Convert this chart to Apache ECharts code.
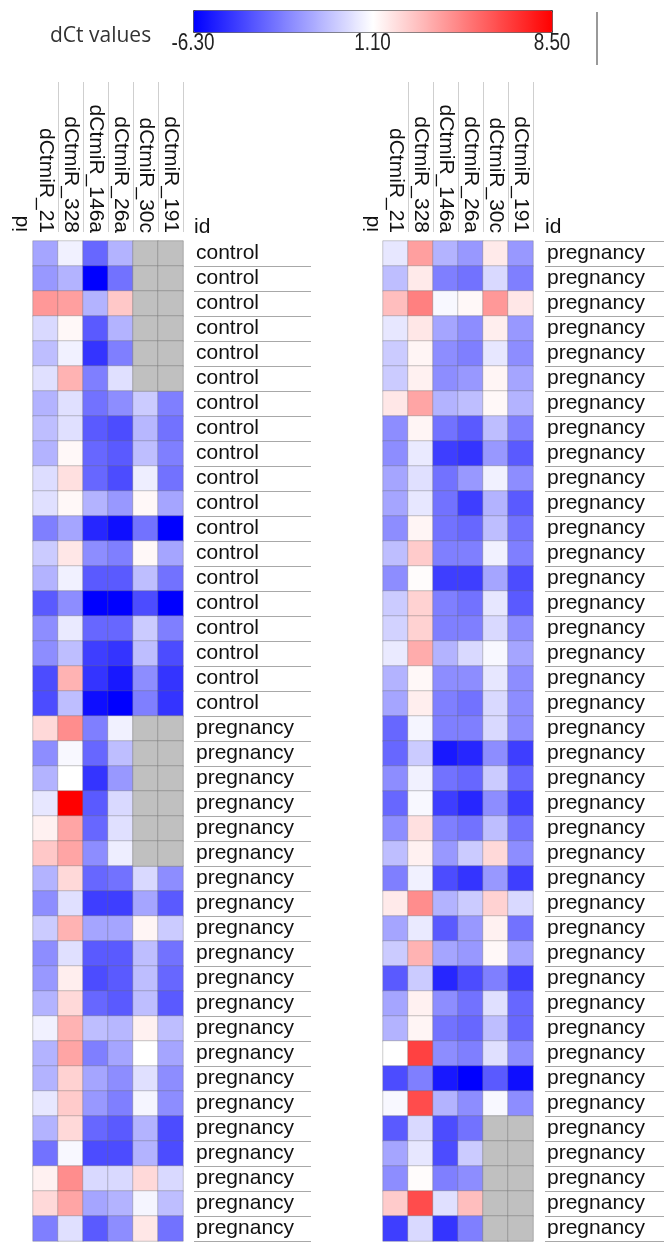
<!DOCTYPE html>
<html><head><meta charset="utf-8">
<script src="https://cdn.jsdelivr.net/npm/echarts@6/dist/echarts.min.js"></script>
<style>html,body{margin:0;padding:0;background:#fff}#c{width:664px;height:1242px}</style>
</head><body><div id="c"></div>
<script>
// ---- data ----
const miRNAs = ['dCtmiR_21','dCtmiR_328','dCtmiR_146a','dCtmiR_26a','dCtmiR_30c','dCtmiR_191'];
const leftIds = ['control','control','control','control','control','control','control','control','control','control',
  'control','control','control','control','control','control','control','control','control',
  'pregnancy','pregnancy','pregnancy','pregnancy','pregnancy','pregnancy','pregnancy','pregnancy','pregnancy','pregnancy',
  'pregnancy','pregnancy','pregnancy','pregnancy','pregnancy','pregnancy','pregnancy','pregnancy','pregnancy','pregnancy','pregnancy'];
const rightIds = ['pregnancy','pregnancy','pregnancy','pregnancy','pregnancy','pregnancy','pregnancy','pregnancy','pregnancy','pregnancy',
  'pregnancy','pregnancy','pregnancy','pregnancy','pregnancy','pregnancy','pregnancy','pregnancy','pregnancy','pregnancy',
  'pregnancy','pregnancy','pregnancy','pregnancy','pregnancy','pregnancy','pregnancy','pregnancy','pregnancy','pregnancy',
  'pregnancy','pregnancy','pregnancy','pregnancy','pregnancy','pregnancy','pregnancy','pregnancy','pregnancy','pregnancy'];

// left panel, one array per miRNA (top row first); null = missing
const L_miR21  = [-1.5,-1.9,4.1,0.0,-0.8,0.2,-1.1,-0.8,-1.1,0.1, 0.2,-2.6,-0.4,-1.1,-3.7,-2.2,-2.2,-4.1,-4.1,2.2, -2.2,-1.1,0.4,1.5,2.7,-1.1,-2.2,-0.4,-2.2,-1.9, -1.1,0.7,-1.1,-1.1,0.4,-1.1,-3.0,1.5,2.2,-2.6];
const L_miR328 = [0.7,-1.1,3.9,1.3,0.7,3.3,0.2,0.2,1.3,2.0, 1.3,-1.5,1.8,0.7,-2.2,0.5,-0.8,3.3,-0.8,4.4, 0.9,1.1,8.5,3.7,3.7,2.2,0.2,3.3,0.2,1.6, 2.2,3.3,3.7,2.4,2.6,2.2,0.9,4.4,3.7,0.2];
const L_miR146a= [-3.3,-6.3,-1.1,-3.7,-4.8,-2.6,-3.0,-3.7,-3.3,-3.3, -1.1,-5.2,-2.2,-3.7,-6.3,-3.3,-4.5,-4.8,-5.9,-2.6, -3.3,-4.8,-3.7,-3.3,-2.2,-3.3,-4.5,-1.5,-3.7,-4.1, -3.3,-0.8,-2.6,-1.5,-1.9,-3.3,-4.1,0.0,-1.5,-3.7];
const L_miR26a = [-1.1,-3.0,2.7,-1.1,-2.6,0.2,-2.2,-4.1,-3.7,-4.1, -1.9,-5.9,-2.6,-3.7,-6.3,-3.3,-4.8,-5.6,-6.3,0.7, -0.8,-1.9,0.0,0.2,0.6,-3.0,-4.5,-1.5,-3.7,-3.7, -3.7,-1.0,-1.5,-2.2,-2.6,-3.7,-4.1,0.0,-1.1,-2.2];
const L_miR30c = [null,null,null,null,null,null,-0.4,-1.0,-0.8,0.6, 1.3,-3.0,1.3,-0.8,-4.1,-0.4,-0.8,-2.2,-2.6,null, null,null,null,null,null,0.0,-1.5,1.4,-0.8,-0.8, -0.8,1.5,1.1,0.2,0.8,-1.1,-1.1,2.2,0.8,1.8];
const L_miR191 = [null,null,null,null,null,null,-2.6,-3.0,-2.6,-3.0, -1.5,-6.3,-1.5,-3.0,-6.3,-2.6,-4.1,-4.8,-4.8,null, null,null,null,null,null,-2.2,-3.7,-0.4,-3.0,-3.3, -3.7,-0.8,-1.5,-2.2,-2.2,-4.1,-4.1,0.0,-0.8,-3.0];

// right panel
const R_miR21  = [0.4,-0.8,3.0,0.4,-0.4,-0.4,1.8,-2.2,-2.2,-1.5, -1.5,-2.2,-0.8,-2.2,-0.4,-0.2,0.5,-1.1,-1.5,-3.3, -3.3,-2.2,-3.3,-2.2,-0.8,-2.6,1.7,-1.5,-0.4,-3.7, -1.5,-1.1,1.1,-4.1,0.9,-3.7,-1.5,-2.2,2.6,-4.5];
const R_miR328 = [3.9,1.7,4.8,1.8,1.4,1.5,3.7,1.4,0.5,0.2, 0.4,1.4,2.6,1.2,2.4,2.4,3.5,1.3,1.6,0.8, -0.4,0.7,0.9,2.0,1.5,0.7,4.4,0.5,3.3,-0.4, 1.5,1.4,6.6,-2.6,6.3,0.0,0.4,1.2,6.3,0.0];
const R_miR146a= [-1.1,-2.6,0.9,-1.5,-2.2,-2.2,-1.1,-3.0,-4.5,-3.0, -3.0,-3.0,-2.6,-4.5,-2.6,-2.6,-1.1,-2.2,-2.6,-2.6, -5.6,-3.0,-4.5,-2.6,-1.9,-4.1,-1.1,-3.7,-1.5,-5.2, -2.2,-3.0,-2.2,-5.6,-1.1,-4.1,-4.1,-2.6,0.2,-4.8];
const R_miR26a = [-1.9,-3.0,1.3,-2.2,-2.6,-1.9,-0.8,-3.7,-4.8,-1.9, -4.5,-3.3,-2.6,-4.5,-3.0,-2.6,0.0,-2.2,-3.0,-2.6, -5.2,-3.3,-5.2,-3.0,-0.4,-4.8,-0.4,-1.9,-1.9,-4.1, -3.0,-3.3,-2.6,-6.3,-2.2,-3.0,-0.4,-2.2,3.0,-2.6];
const R_miR30c = [1.7,0.0,4.1,1.6,0.4,1.4,1.3,-0.8,-1.9,0.7, -1.1,-0.8,0.7,-1.5,0.4,0.0,0.9,0.4,0.0,0.0, -2.2,-0.4,-2.2,-0.8,2.2,-1.9,2.4,1.5,1.3,-2.6, 0.2,-0.8,0.2,-3.7,0.9,null,null,null,null,null];
const R_miR191 = [-1.9,-2.6,1.8,-1.9,-2.2,-1.5,-1.1,-2.6,-3.7,-2.2, -3.7,-3.0,-2.6,-4.1,-3.7,-2.2,-1.5,-2.2,-2.2,-2.2, -4.5,-3.3,-4.5,-3.0,-2.2,-4.5,0.0,-3.0,-1.5,-4.5, -3.3,-3.3,-2.2,-5.9,-2.2,null,null,null,null,null];

const scaleMin = -6.3, scaleMid = 1.1, scaleMax = 8.5;
const scaleTicks = ['-6.30','1.10','8.50'];
const scaleTickValues = [scaleMin, scaleMid, scaleMax];

// ---- build ----
function build(cols){
  const vals = [], miss = [];
  cols.forEach((arr, j) => arr.forEach((v, i) => {
    if (v === null) miss.push([j, i, 0]); else vals.push([j, i, v]);
  }));
  return {vals, miss};
}
const left = build([L_miR21,L_miR328,L_miR146a,L_miR26a,L_miR30c,L_miR191]);
const right = build([R_miR21,R_miR328,R_miR146a,R_miR26a,R_miR30c,R_miR191]);

const FONT = '"Liberation Sans", Arial, sans-serif';
const TXT = '#111';
const barLeft = 193, barLen = 359, barTop = 10, barThick = 22;

function heatX(grid){
  return {type:'category', gridIndex:grid, data:miRNAs, position:'top',
    axisLine:{show:false}, axisTick:{show:false}, splitLine:{show:false},
    axisLabel:{rotate:90, interval:0, margin:8, fontSize:21, fontFamily:FONT, color:TXT, padding:[0,0,5,0]}};
}
function heatY(grid, ids){
  return {type:'category', gridIndex:grid, data:ids, inverse:true, show:false};
}
function labelY(grid, ids, skipTop){
  return {type:'category', gridIndex:grid, data:ids, inverse:true,
    axisLine:{show:false}, axisTick:{show:false},
    splitLine:{show:true, interval: skipTop ? (idx) => idx !== 0 : 0, lineStyle:{color:'#a8a8a8', width:1}},
    axisLabel:{inside:true, interval:0, margin:2, fontSize:21, fontFamily:FONT, color:TXT}};
}
function hiddenVal(grid){ return {type:'value', gridIndex:grid, show:false, min:0, max:1}; }
function headerX(grid){
  return {type:'value', gridIndex:grid, min:1, max:6, interval:1,
    axisLine:{show:false}, axisTick:{show:false}, axisLabel:{show:false},
    splitLine:{show:true, lineStyle:{color:'#cfcfcf', width:1}}};
}
const cellStyle = {borderColor:'rgba(110,110,110,0.35)', borderWidth:1};
const missStyle = {color:'#c0c0c0', borderColor:'rgba(120,120,120,0.5)', borderWidth:1};

function txt(x, y, text, extra, styleExtra){
  return Object.assign({type:'text', x:x, y:y, style:Object.assign({text:text, font:'21px '+FONT, fill:TXT,
    textAlign:'left', textVerticalAlign:'middle', align:'left', verticalAlign:'middle'}, styleExtra || {})}, extra || {});
}
const graphics = [
  txt(50, 36, 'dCt values', {}, {font:'21px "Open Sans", sans-serif', fill:'#333'}),
  {type:'line', shape:{x1:597, y1:12, x2:597, y2:65}, style:{stroke:'#999', lineWidth:2}},
  txt(21.5, 232, 'id', {rotation:Math.PI/2}),
  txt(372, 232, 'id', {rotation:Math.PI/2}),
  txt(194, 227, 'id'),
  txt(545, 227, 'id')
];
scaleTicks.forEach((t, k) => {
  const px = barLeft + (scaleTickValues[k] - scaleMin) / (scaleMax - scaleMin) * barLen;
  graphics.push(txt(px, 44, t, {scaleX:0.82}, {font:'23px '+FONT, fill:'#222', textAlign:'center', align:'center'}));
});

const chart = echarts.init(document.getElementById('c'), null, {renderer:'canvas'});
chart.setOption({
  backgroundColor:'#fff',
  animation:false,
  grid:[
    {left:33, top:241, width:150, height:1000},
    {left:383, top:241, width:150, height:1000},
    {left:194, top:241, width:117, height:1000},
    {left:545, top:241, width:119, height:1000},
    {left:58, top:82, width:125, height:150},
    {left:408, top:82, width:125, height:150}
  ],
  xAxis:[heatX(0), heatX(1), hiddenVal(2), hiddenVal(3), headerX(4), headerX(5)],
  yAxis:[heatY(0,leftIds), heatY(1,rightIds), labelY(2,leftIds,true), labelY(3,rightIds,false), hiddenVal(4), hiddenVal(5)],
  visualMap:{
    type:'continuous', min:scaleMin, max:scaleMax, seriesIndex:[0,2],
    orient:'horizontal', left:barLeft, top:barTop, itemWidth:barThick, itemHeight:barLen,
    calculable:false, hoverLink:false, padding:0, borderColor:'#444', borderWidth:1,
    inRange:{color:['#0000ff','#ffffff','#ff0000']}
  },
  series:[
    {type:'heatmap', xAxisIndex:0, yAxisIndex:0, data:left.vals, itemStyle:cellStyle},
    {type:'heatmap', xAxisIndex:0, yAxisIndex:0, data:left.miss, itemStyle:missStyle},
    {type:'heatmap', xAxisIndex:1, yAxisIndex:1, data:right.vals, itemStyle:cellStyle},
    {type:'heatmap', xAxisIndex:1, yAxisIndex:1, data:right.miss, itemStyle:missStyle}
  ],
  graphic:graphics
});
</script></body></html>
